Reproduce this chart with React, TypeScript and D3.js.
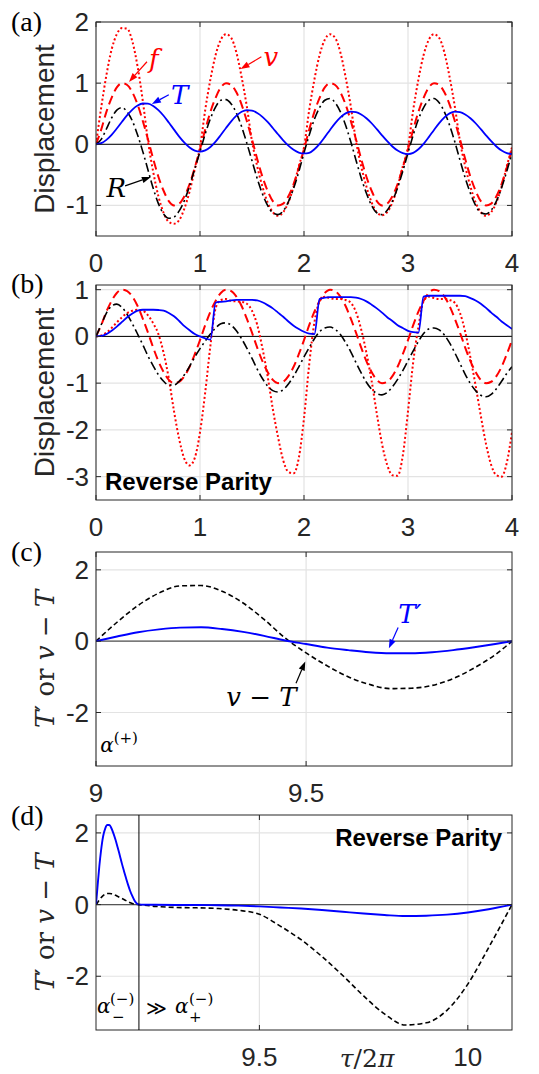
import React from 'react';
import * as d3 from 'd3';

// ---------- data (τ/2π sampling grid for panels a, b) ----------
const tauAB = d3.range(81).map((i) => i / 20);

// forcing f (red dashed), same in (a) and (b)
const fForce = [
  0, 0.24, 0.53, 0.76, 0.93, 1.0, 0.97, 0.85, 0.65, 0.38, 0.08, -0.24, -0.53, -0.76, -0.93, -1.0, -0.97, -0.85, -0.65, -0.38,
  -0.08, 0.24, 0.53, 0.76, 0.93, 1.0, 0.97, 0.85, 0.65, 0.38, 0.08, -0.24, -0.53, -0.76, -0.93, -1.0, -0.97, -0.85, -0.65, -0.38,
  -0.08, 0.24, 0.53, 0.76, 0.93, 1.0, 0.97, 0.85, 0.65, 0.38, 0.08, -0.24, -0.53, -0.76, -0.93, -1.0, -0.97, -0.85, -0.65, -0.38,
  -0.08, 0.24, 0.53, 0.76, 0.93, 1.0, 0.97, 0.85, 0.65, 0.38, 0.08, -0.24, -0.53, -0.76, -0.93, -1.0, -0.97, -0.85, -0.65, -0.38,
  -0.08,
];

// panel (a)
const vA = [
  0, 0.6, 1.13, 1.55, 1.8, 1.9, 1.89, 1.68, 1.27, 0.71, 0.05, -0.45, -0.85, -1.12, -1.27, -1.3, -1.24, -1.05, -0.77, -0.41,
  -0.05, 0.56, 1.06, 1.46, 1.71, 1.8, 1.74, 1.5, 1.1, 0.62, 0.05, -0.36, -0.69, -0.95, -1.11, -1.17, -1.11, -0.95, -0.69, -0.36,
  -0.05, 0.56, 1.06, 1.46, 1.71, 1.8, 1.74, 1.5, 1.1, 0.62, 0.05, -0.36, -0.69, -0.95, -1.11, -1.16, -1.11, -0.95, -0.69, -0.36,
  -0.05, 0.56, 1.06, 1.46, 1.71, 1.8, 1.74, 1.5, 1.1, 0.62, 0.05, -0.36, -0.69, -0.95, -1.11, -1.17, -1.11, -0.95, -0.69, -0.36,
  -0.05,
];
const RA = [
  0, 0.08, 0.25, 0.43, 0.56, 0.6, 0.53, 0.38, 0.15, -0.12, -0.42, -0.72, -0.97, -1.14, -1.21, -1.19, -1.09, -0.92, -0.68, -0.4,
  -0.12, 0.17, 0.42, 0.61, 0.72, 0.73, 0.66, 0.51, 0.29, 0.02, -0.27, -0.56, -0.81, -1.0, -1.12, -1.15, -1.09, -0.94, -0.72, -0.45,
  -0.14, 0.15, 0.41, 0.6, 0.72, 0.75, 0.68, 0.53, 0.31, 0.04, -0.26, -0.55, -0.8, -1.0, -1.12, -1.15, -1.08, -0.93, -0.71, -0.44,
  -0.14, 0.15, 0.41, 0.6, 0.72, 0.75, 0.68, 0.53, 0.31, 0.04, -0.26, -0.55, -0.8, -1.0, -1.12, -1.14, -1.08, -0.93, -0.71, -0.44,
  -0.14,
];
const TA = [
  0, 0.018, 0.072, 0.155, 0.258, 0.369, 0.476, 0.568, 0.634, 0.667, 0.664, 0.627, 0.558, 0.466, 0.356, 0.24, 0.126, 0.027, -0.052, -0.103,
  -0.12, -0.1, -0.044, 0.043, 0.151, 0.266, 0.376, 0.468, 0.532, 0.559, 0.55, 0.512, 0.449, 0.365, 0.267, 0.164, 0.064, -0.023, -0.091, -0.135,
  -0.15, -0.14, -0.082, 0.007, 0.117, 0.235, 0.347, 0.441, 0.506, 0.534, 0.526, 0.488, 0.426, 0.344, 0.248, 0.147, 0.05, -0.036, -0.103, -0.145,
  -0.16, -0.14, -0.082, 0.007, 0.117, 0.235, 0.347, 0.441, 0.506, 0.534, 0.526, 0.488, 0.426, 0.344, 0.248, 0.147, 0.05, -0.036, -0.103, -0.145,
  -0.16,
];

// panel (b) — reverse parity
const vB = [
  0, 0.02, 0.08, 0.18, 0.3, 0.41, 0.5, 0.55, 0.57, 0.55, 0.45, 0.28, 0.05, -0.35, -0.9, -1.6, -2.2, -2.62, -2.76, -2.6,
  -2.05, -1.2, -0.2, 0.6, 0.78, 0.8, 0.76, 0.75, 0.74, 0.7, 0.55, 0.25, -0.25, -0.85, -1.55, -2.15, -2.65, -2.9, -2.93, -2.6,
  -1.75, -0.6, 0.3, 0.75, 0.85, 0.82, 0.8, 0.8, 0.78, 0.72, 0.52, 0.15, -0.35, -0.95, -1.65, -2.3, -2.75, -2.97, -2.98, -2.55,
  -1.6, -0.55, 0.2, 0.75, 0.85, 0.82, 0.8, 0.8, 0.78, 0.72, 0.5, 0.1, -0.45, -1.05, -1.7, -2.3, -2.75, -2.97, -3.0, -2.7,
  -2.05,
];
const RB = [
  0, 0.25, 0.5, 0.65, 0.69, 0.62, 0.47, 0.27, 0.05, -0.18, -0.42, -0.63, -0.82, -0.96, -1.04, -1.04, -0.96, -0.82, -0.64, -0.44,
  -0.26, -0.1, 0.05, 0.18, 0.27, 0.29, 0.24, 0.12, -0.05, -0.25, -0.47, -0.7, -0.9, -1.06, -1.16, -1.19, -1.14, -1.02, -0.85, -0.65,
  -0.44, -0.24, -0.05, 0.1, 0.18, 0.2, 0.15, 0.04, -0.13, -0.33, -0.56, -0.78, -0.98, -1.13, -1.22, -1.25, -1.2, -1.08, -0.92, -0.73,
  -0.52, -0.31, -0.11, 0.06, 0.16, 0.18, 0.14, 0.03, -0.14, -0.35, -0.58, -0.81, -1.01, -1.16, -1.26, -1.29, -1.24, -1.12, -0.96, -0.79,
  -0.65,
];
const TB = [
  0, 0.01, 0.05, 0.12, 0.21, 0.31, 0.41, 0.49, 0.55, 0.57, 0.57, 0.57, 0.565, 0.55, 0.5, 0.43, 0.33, 0.22, 0.13, 0.05,
  0.0, -0.04, -0.07, 0.72, 0.74, 0.75, 0.77, 0.78, 0.78, 0.78, 0.78, 0.77, 0.73, 0.67, 0.6, 0.51, 0.42, 0.32, 0.23, 0.16,
  0.1, 0.06, 0.05, 0.8, 0.83, 0.84, 0.84, 0.84, 0.84, 0.84, 0.83, 0.8, 0.75, 0.68, 0.6, 0.51, 0.41, 0.33, 0.24, 0.18,
  0.12, 0.09, 0.08, 0.85, 0.87, 0.87, 0.87, 0.87, 0.87, 0.87, 0.87, 0.86, 0.82, 0.77, 0.7, 0.61, 0.51, 0.42, 0.32, 0.24,
  0.16,
];

// panel (c)
const tauC = [9.0, 9.05, 9.1, 9.15, 9.2, 9.25, 9.3, 9.35, 9.4, 9.45, 9.5, 9.55, 9.6, 9.65, 9.7, 9.75, 9.8, 9.85, 9.9, 9.95, 9.99];
const vmTC = [0, 0.53, 1.0, 1.35, 1.55, 1.56, 1.4, 1.07, 0.61, 0.09, -0.33, -0.69, -1.0, -1.21, -1.33, -1.32, -1.24, -1.05, -0.75, -0.38, 0];
const TpC = [0, 0.13, 0.25, 0.33, 0.38, 0.39, 0.34, 0.26, 0.15, 0.02, -0.08, -0.18, -0.25, -0.31, -0.34, -0.34, -0.31, -0.25, -0.17, -0.08, 0];

// panel (d)
const tauD = [
  9.108, 9.112, 9.116, 9.12, 9.125, 9.13, 9.135, 9.14, 9.145, 9.15, 9.155, 9.16, 9.165, 9.17, 9.175, 9.18, 9.185, 9.19, 9.195, 9.2, 9.205, 9.211,
  9.25, 9.3, 9.35, 9.4, 9.45, 9.5, 9.55, 9.6, 9.65, 9.7, 9.75, 9.8, 9.85, 9.9, 9.95, 10.0, 10.05, 10.106,
];
const TpD = [
  0, 0.55, 1.07, 1.5, 1.9, 2.12, 2.22, 2.22, 2.13, 1.98, 1.8, 1.59, 1.38, 1.15, 0.94, 0.74, 0.55, 0.38, 0.24, 0.12, 0.04, 0,
  -0.005, -0.01, -0.01, -0.02, -0.03, -0.05, -0.08, -0.11, -0.15, -0.2, -0.25, -0.29, -0.32, -0.31, -0.28, -0.22, -0.13, 0,
];
const vmTD = [
  0, 0.06, 0.13, 0.19, 0.25, 0.29, 0.31, 0.31, 0.3, 0.28, 0.26, 0.23, 0.2, 0.17, 0.14, 0.11, 0.08, 0.05, 0.03, 0.015, 0.005, 0,
  -0.05, -0.08, -0.09, -0.11, -0.16, -0.27, -0.6, -0.98, -1.45, -1.98, -2.55, -3.05, -3.36, -3.3, -2.95, -2.22, -1.2, 0,
];
const switchTauD = 9.211;

// ticks
const xTicksAB = [0, 1, 2, 3, 4];
const yTicksA = [-1, 0, 1, 2];
const yTicksB = [-3, -2, -1, 0, 1];
const xTicksC = [9, 9.5];
const xTicksD = [9.5, 10];
const yTicksCD = [-2, 0, 2];

// ---------- styling ----------
const LEFT = 96;
const RIGHT = 512;
const AX = '#262626';
const SANS = '"Liberation Sans", Arial, Helvetica, sans-serif';
const SERIF = '"DejaVu Serif", "Liberation Serif", serif';
const RED = '#ff0000';
const BLUE = '#0000ff';

type Series = { xs: number[]; ys: number[]; color: string; w: number; dash?: string };
type Sc = d3.ScaleLinear<number, number>;

function Arrow({ x1, y1, x2, y2, color }: { x1: number; y1: number; x2: number; y2: number; color: string }) {
  const ang = Math.atan2(y2 - y1, x2 - x1);
  const L = 9;
  const hw = 3.2;
  const bx = x2 - L * Math.cos(ang);
  const by = y2 - L * Math.sin(ang);
  const px = -Math.sin(ang) * hw;
  const py = Math.cos(ang) * hw;
  return (
    <g>
      <line x1={x1} y1={y1} x2={bx} y2={by} stroke={color} strokeWidth={1.2} />
      <polygon points={`${x2},${y2} ${bx + px},${by + py} ${bx - px},${by - py}`} fill={color} />
    </g>
  );
}

function Panel(props: {
  id: string;
  top: number;
  bottom: number;
  xDomain: [number, number];
  yDomain: [number, number];
  xTicks: number[];
  yTicks: number[];
  series: Series[];
  zeroColor: string;
  zeroW: number;
  label: string;
  labelY: number;
  yLabel: React.ReactNode;
  extra?: (x: Sc, y: Sc) => React.ReactNode;
}) {
  const { id, top, bottom, xDomain, yDomain, xTicks, yTicks, series, zeroColor, zeroW, label, labelY, yLabel, extra } = props;
  const x = d3.scaleLinear().domain(xDomain).range([LEFT, RIGHT]);
  const y = d3.scaleLinear().domain(yDomain).range([bottom, top]);
  const tl = 5;
  return (
    <g>
      <defs>
        <clipPath id={id}>
          <rect x={LEFT} y={top} width={RIGHT - LEFT} height={bottom - top} />
        </clipPath>
      </defs>
      <rect x={LEFT} y={top} width={RIGHT - LEFT} height={bottom - top} fill="#fff" />
      {xTicks.map((t) => (
        <line key={'gx' + t} x1={x(t)} x2={x(t)} y1={top} y2={bottom} stroke="#e3e3e3" strokeWidth={1.2} />
      ))}
      {yTicks.map((t) => (
        <line key={'gy' + t} x1={LEFT} x2={RIGHT} y1={y(t)} y2={y(t)} stroke="#e3e3e3" strokeWidth={1.2} />
      ))}
      <line x1={LEFT} x2={RIGHT} y1={y(0)} y2={y(0)} stroke={zeroColor} strokeWidth={zeroW} />
      <g clipPath={`url(#${id})`}>
        {series.map((s, i) => {
          const line = d3
            .line<number>()
            .x((_, j) => x(s.xs[j]))
            .y((d) => y(d))
            .curve(d3.curveMonotoneX);
          return (
            <path
              key={i}
              d={line(s.ys) || ''}
              fill="none"
              stroke={s.color}
              strokeWidth={s.w}
              strokeDasharray={s.dash}
              strokeLinejoin="round"
            />
          );
        })}
      </g>
      <rect x={LEFT} y={top} width={RIGHT - LEFT} height={bottom - top} fill="none" stroke={AX} strokeWidth={1} />
      {xTicks.map((t) => (
        <g key={'tx' + t}>
          <line x1={x(t)} x2={x(t)} y1={bottom} y2={bottom - tl} stroke={AX} />
          <line x1={x(t)} x2={x(t)} y1={top} y2={top + tl} stroke={AX} />
          <text x={x(t)} y={bottom + 36} textAnchor="middle" fontFamily={SANS} fontSize={26} fill={AX}>
            {String(t)}
          </text>
        </g>
      ))}
      {yTicks.map((t) => (
        <g key={'ty' + t}>
          <line x1={LEFT} x2={LEFT + tl} y1={y(t)} y2={y(t)} stroke={AX} />
          <line x1={RIGHT} x2={RIGHT - tl} y1={y(t)} y2={y(t)} stroke={AX} />
          <text x={89} y={y(t) + 9} textAnchor="end" fontFamily={SANS} fontSize={26} fill={AX}>
            {t < 0 ? '-' + Math.abs(t) : String(t)}
          </text>
        </g>
      ))}
      <text x={11} y={labelY} fontFamily='"Liberation Serif", serif' fontSize={28} fill="#000">
        {label}
      </text>
      <g transform={`translate(54,${(top + bottom) / 2}) rotate(-90)`}>{yLabel}</g>
      {extra ? extra(x, y) : null}
    </g>
  );
}

const dispLabel = (
  <text textAnchor="middle" fontFamily={SANS} fontSize={28} fill={AX}>
    Displacement
  </text>
);
const tLabel = (
  <text textAnchor="middle" fontFamily={SERIF} fontSize={26} fill={AX}>
    <tspan fontStyle="italic">T</tspan>
    <tspan>′ or </tspan>
    <tspan fontStyle="italic">v</tspan>
    <tspan> − </tspan>
    <tspan fontStyle="italic">T</tspan>
  </text>
);

export default function App() {
  const DOT = '2 2.4';
  const DASH = '9 5';
  const DASHDOT = '9 3.5 2 3.5';
  const seriesA: Series[] = [
    { xs: tauAB, ys: vA, color: RED, w: 2, dash: DOT },
    { xs: tauAB, ys: fForce, color: RED, w: 2, dash: DASH },
    { xs: tauAB, ys: RA, color: '#000', w: 1.6, dash: DASHDOT },
    { xs: tauAB, ys: TA, color: BLUE, w: 1.8 },
  ];
  const seriesB: Series[] = [
    { xs: tauAB, ys: vB, color: RED, w: 2, dash: DOT },
    { xs: tauAB, ys: fForce, color: RED, w: 2, dash: DASH },
    { xs: tauAB, ys: RB, color: '#000', w: 1.6, dash: DASHDOT },
    { xs: tauAB, ys: TB, color: BLUE, w: 1.8 },
  ];
  const seriesC: Series[] = [
    { xs: tauC, ys: vmTC, color: '#000', w: 1.6, dash: '5 3' },
    { xs: tauC, ys: TpC, color: BLUE, w: 1.9 },
  ];
  const seriesD: Series[] = [
    { xs: tauD, ys: vmTD, color: '#000', w: 1.6, dash: '5 3' },
    { xs: tauD, ys: TpD, color: BLUE, w: 1.9 },
  ];
  const it = { fontFamily: SERIF, fontStyle: 'italic' as const };

  return (
    <svg
      width={539}
      height={1074}
      viewBox="0 0 539 1074"
      style={{ position: 'absolute', left: 0, top: 0, background: '#fff' }}
    >
      <rect width={539} height={1074} fill="#fff" />
      <Panel
        id="clipA"
        top={22}
        bottom={236}
        xDomain={[0, 4]}
        yDomain={[-1.5, 2]}
        xTicks={xTicksAB}
        yTicks={yTicksA}
        series={seriesA}
        zeroColor="#000"
        zeroW={1}
        label="(a)"
        labelY={31}
        yLabel={dispLabel}
        extra={(x, y) => (
          <g>
            <text x={x(0.51)} y={y(1.25)} {...it} fontSize={26} fill={RED}>f</text>
            <Arrow x1={x(0.49)} y1={y(1.35)} x2={x(0.317)} y2={y(1.02)} color={RED} />
            <text x={x(1.61)} y={y(1.28)} {...it} fontSize={26} fill={RED}>v</text>
            <Arrow x1={x(1.59)} y1={y(1.43)} x2={x(1.39)} y2={y(1.23)} color={RED} />
            <text x={x(0.72)} y={y(0.66)} {...it} fontSize={26} fill={BLUE}>T</text>
            <Arrow x1={x(0.7)} y1={y(0.81)} x2={x(0.537)} y2={y(0.66)} color={BLUE} />
            <text x={x(0.1)} y={y(-0.87)} {...it} fontSize={26} fill="#000">R</text>
            <Arrow x1={x(0.28)} y1={y(-0.68)} x2={x(0.528)} y2={y(-0.535)} color="#000" />
          </g>
        )}
      />
      <Panel
        id="clipB"
        top={285}
        bottom={500}
        xDomain={[0, 4]}
        yDomain={[-3.5, 1.1]}
        xTicks={xTicksAB}
        yTicks={yTicksB}
        series={seriesB}
        zeroColor="#000"
        zeroW={1}
        label="(b)"
        labelY={293}
        yLabel={dispLabel}
        extra={() => (
          <text x={105} y={490} fontFamily={SANS} fontWeight="bold" fontSize={24} fill="#000">
            Reverse Parity
          </text>
        )}
      />
      <Panel
        id="clipC"
        top={552}
        bottom={766}
        xDomain={[9, 9.99]}
        yDomain={[-3.5, 2.5]}
        xTicks={xTicksC}
        yTicks={yTicksCD}
        series={seriesC}
        zeroColor="#555"
        zeroW={1.4}
        label="(c)"
        labelY={561}
        yLabel={tLabel}
        extra={(x, y) => (
          <g>
            <text x={x(9.719)} y={y(0.5)} {...it} fontSize={26} fill={BLUE}>T′</text>
            <Arrow x1={x(9.719)} y1={y(0.38)} x2={x(9.697)} y2={y(-0.2)} color={BLUE} />
            <text x={x(9.31)} y={y(-1.83)} fontFamily={SERIF} fontSize={26} fill="#000">
              <tspan fontStyle="italic">v</tspan>
              <tspan> − </tspan>
              <tspan fontStyle="italic">T</tspan>
            </text>
            <Arrow x1={x(9.476)} y1={y(-1.18)} x2={x(9.498)} y2={y(-0.57)} color="#000" />
            <text x={x(9.01)} y={y(-3.12)} fontFamily={SERIF} fontSize={20} fill="#000">
              <tspan fontStyle="italic">α</tspan>
              <tspan fontSize={15} dy={-9}>(+)</tspan>
            </text>
          </g>
        )}
      />
      <Panel
        id="clipD"
        top={815}
        bottom={1030}
        xDomain={[9.108, 10.106]}
        yDomain={[-3.5, 2.5]}
        xTicks={xTicksD}
        yTicks={yTicksCD}
        series={seriesD}
        zeroColor="#555"
        zeroW={1.4}
        label="(d)"
        labelY={825}
        yLabel={tLabel}
        extra={(x, y) => (
          <g>
            <line x1={x(switchTauD)} x2={x(switchTauD)} y1={815} y2={1030} stroke="#000" strokeWidth={1} />
            <text x={502} y={846} textAnchor="end" fontFamily={SANS} fontWeight="bold" fontSize={24} fill="#000">
              Reverse Parity
            </text>
            <text x={97} y={1013} fontFamily={SERIF} fontSize={20} fill="#000" fontStyle="italic">α</text>
            <text x={110} y={1004} fontFamily={SERIF} fontSize={15} fill="#000">(−)</text>
            <text x={112} y={1022} fontFamily={SERIF} fontSize={15} fill="#000">−</text>
            <text x={146} y={1015} fontFamily={SERIF} fontSize={20} fill="#000">≫</text>
            <text x={175} y={1013} fontFamily={SERIF} fontSize={20} fill="#000" fontStyle="italic">α</text>
            <text x={189} y={1004} fontFamily={SERIF} fontSize={15} fill="#000">(−)</text>
            <text x={189} y={1022} fontFamily={SERIF} fontSize={15} fill="#000">+</text>
            <text x={367} y={1067} textAnchor="middle" fontFamily={SERIF} fontSize={25} fill={AX}>
              <tspan fontStyle="italic">τ</tspan>
              <tspan>/2</tspan>
              <tspan fontStyle="italic">π</tspan>
            </text>
          </g>
        )}
      />
    </svg>
  );
}
